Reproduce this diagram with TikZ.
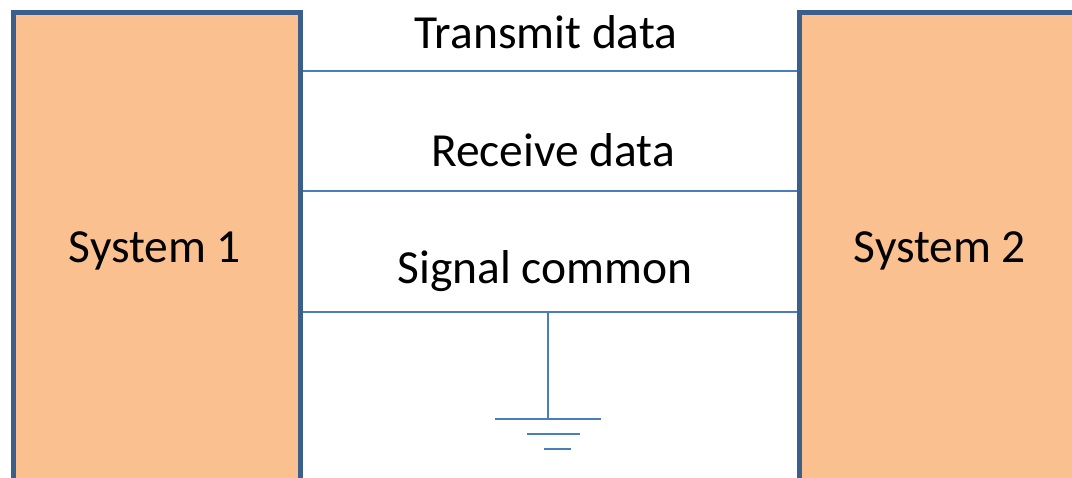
\documentclass[tikz,border=0pt]{standalone}
\usepackage{fontspec}
\setmainfont{Carlito}
\definecolor{boxfill}{HTML}{FAC090}
\definecolor{boxedge}{HTML}{3A5F8D}
\definecolor{wire}{HTML}{4A7EBB}
\tikzset{
  system/.style={draw=boxedge, line width=5pt, fill=boxfill, inner sep=0pt},
  wireline/.style={draw=wire, line width=1.5pt},
  gnd/.style={draw=wire, line width=2pt},
  label/.style={anchor=base, font=\fontsize{47.5}{56}\selectfont, inner sep=0pt}
}
\begin{document}
\begin{tikzpicture}[x=1pt, y=-1pt]
  \useasboundingbox (0,0) rectangle (1072,478);
  \clip (0,0) rectangle (1072,478);

  % the two systems (lower and right parts run past the frame)
  \node[system, minimum width=287pt, minimum height=469pt, anchor=north west]
    (sys1) at (10.5,10) {};
  \node[system, minimum width=300pt, minimum height=469pt, anchor=north west]
    (sys2) at (797,10) {};

  \node[label] (t1) at (155,263) {System 1};
  \node[label] (t2) at (940,263) {System 2};

  % wire end points on the box edges
  \coordinate (tx1) at (sys1.east |- 0,71);
  \coordinate (tx2) at (sys2.west |- 0,71);
  \coordinate (rx1) at (sys1.east |- 0,191);
  \coordinate (rx2) at (sys2.west |- 0,191);
  \coordinate (sc1) at (sys1.east |- 0,312);
  \coordinate (sc2) at (sys2.west |- 0,312);

  \draw[wireline] (tx1) -- (tx2);
  \draw[wireline] (rx1) -- (rx2);
  \draw[wireline] (sc1) -- (sc2);

  \node[label] (lt) at (546,49) {Transmit data};
  \node[label] (lr) at (553,167) {Receive data};
  \node[label] (ls) at (545,284) {Signal common};

  % ground symbol hanging from the signal common wire
  \coordinate (gtop) at (548,312);
  \coordinate (gbot) at (548,419);
  \draw[wireline] (gtop) -- (gbot);
  \coordinate (g1a) at (495,419);  \coordinate (g1b) at (601,419);
  \coordinate (g2a) at (527,434);  \coordinate (g2b) at (580,434);
  \coordinate (g3a) at (544,449);  \coordinate (g3b) at (571,449);
  \draw[gnd] (g1a) -- (g1b);
  \draw[gnd] (g2a) -- (g2b);
  \draw[gnd] (g3a) -- (g3b);
\end{tikzpicture}
\end{document}
